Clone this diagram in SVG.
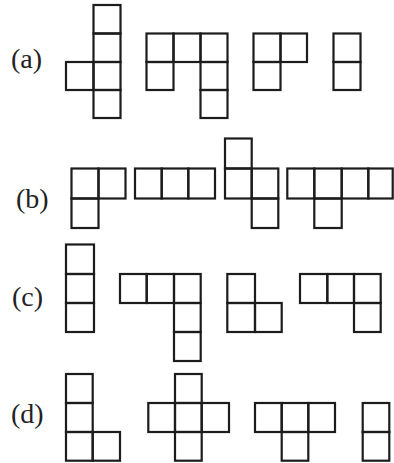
<svg xmlns="http://www.w3.org/2000/svg" width="394" height="463" viewBox="0 0 394 463">
<style>
.c{fill:none;stroke:#1c1c1c;stroke-width:2.2}
.l{font-family:"Liberation Serif","Times New Roman",serif;font-size:28px;fill:#222}
</style>
<rect width="394" height="463" fill="#fff"/>
<g id="labels">
<text class="l" x="11" y="67.5">(a)</text>
<text class="l" x="16" y="207.5">(b)</text>
<text class="l" x="12" y="305.5">(c)</text>
<text class="l" x="11" y="422.5">(d)</text>
</g>
<g id="a1">
<rect class="c" x="93.5" y="5" width="27" height="28.5"/>
<rect class="c" x="93.5" y="33.5" width="27" height="28.5"/>
<rect class="c" x="93.5" y="62" width="27" height="28"/>
<rect class="c" x="93.5" y="90" width="27" height="28"/>
<rect class="c" x="66" y="62" width="27.5" height="28"/>
</g>
<g id="a2">
<rect class="c" x="146.5" y="33.5" width="27" height="28.5"/>
<rect class="c" x="173.5" y="33.5" width="27" height="28.5"/>
<rect class="c" x="200.5" y="33.5" width="27" height="28.5"/>
<rect class="c" x="146.5" y="62" width="27" height="28"/>
<rect class="c" x="200.5" y="62" width="27" height="28"/>
<rect class="c" x="200.5" y="90" width="27" height="28"/>
</g>
<g id="a3">
<rect class="c" x="253.5" y="33.5" width="27" height="28.5"/>
<rect class="c" x="280.5" y="33.5" width="26.5" height="28.5"/>
<rect class="c" x="253.5" y="62" width="27" height="28"/>
</g>
<g id="a4">
<rect class="c" x="333.5" y="33.5" width="27" height="28.5"/>
<rect class="c" x="333.5" y="62" width="27" height="28"/>
</g>
<g id="b1">
<rect class="c" x="71.5" y="168.5" width="27" height="30"/>
<rect class="c" x="98.5" y="168.5" width="27" height="30"/>
<rect class="c" x="71.5" y="198.5" width="27" height="29.5"/>
</g>
<g id="b2">
<rect class="c" x="135" y="168.5" width="26.7" height="30"/>
<rect class="c" x="161.7" y="168.5" width="26.6" height="30"/>
<rect class="c" x="188.3" y="168.5" width="26.7" height="30"/>
</g>
<g id="b3">
<rect class="c" x="225" y="138.5" width="26.7" height="30"/>
<rect class="c" x="225" y="168.5" width="26.7" height="30"/>
<rect class="c" x="251.7" y="168.5" width="26.6" height="30"/>
<rect class="c" x="251.7" y="198.5" width="26.6" height="29.5"/>
</g>
<g id="b4">
<rect class="c" x="287.3" y="168.5" width="27" height="30"/>
<rect class="c" x="314.3" y="168.5" width="27.4" height="30"/>
<rect class="c" x="341.7" y="168.5" width="26.6" height="30"/>
<rect class="c" x="368.3" y="168.5" width="24.4" height="30"/>
<rect class="c" x="314.3" y="198.5" width="27.4" height="29.5"/>
</g>
<g id="c1">
<rect class="c" x="66" y="244.5" width="28" height="29.5"/>
<rect class="c" x="66" y="274" width="28" height="29"/>
<rect class="c" x="66" y="303" width="28" height="29"/>
</g>
<g id="c2">
<rect class="c" x="120" y="274" width="26.7" height="29"/>
<rect class="c" x="146.7" y="274" width="27.3" height="29"/>
<rect class="c" x="174" y="274" width="26.7" height="29"/>
<rect class="c" x="174" y="303" width="26.7" height="29"/>
<rect class="c" x="174" y="332" width="26.7" height="29"/>
</g>
<g id="c3">
<rect class="c" x="227.3" y="274" width="27.7" height="29"/>
<rect class="c" x="227.3" y="303" width="27.7" height="29"/>
<rect class="c" x="255" y="303" width="26.7" height="29"/>
</g>
<g id="c4">
<rect class="c" x="300" y="274" width="27.3" height="29"/>
<rect class="c" x="327.3" y="274" width="26.7" height="29"/>
<rect class="c" x="354" y="274" width="26.7" height="29"/>
<rect class="c" x="354" y="303" width="26.7" height="29"/>
</g>
<g id="d1">
<rect class="c" x="66" y="374" width="26.7" height="29"/>
<rect class="c" x="66" y="403" width="26.7" height="29"/>
<rect class="c" x="66" y="432" width="26.7" height="28.7"/>
<rect class="c" x="92.7" y="432" width="27.3" height="28.7"/>
</g>
<g id="d2">
<rect class="c" x="175" y="374" width="26.7" height="29"/>
<rect class="c" x="148.3" y="403" width="26.7" height="29"/>
<rect class="c" x="175" y="403" width="26.7" height="29"/>
<rect class="c" x="201.7" y="403" width="27.3" height="29"/>
<rect class="c" x="175" y="432" width="26.7" height="28.7"/>
</g>
<g id="d3">
<rect class="c" x="255" y="403" width="26.7" height="29"/>
<rect class="c" x="281.7" y="403" width="26.6" height="29"/>
<rect class="c" x="308.3" y="403" width="26.7" height="29"/>
<rect class="c" x="281.7" y="432" width="26.6" height="28.7"/>
</g>
<g id="d4">
<rect class="c" x="362.7" y="403" width="26.6" height="29"/>
<rect class="c" x="362.7" y="432" width="26.6" height="28.7"/>
</g>
</svg>
